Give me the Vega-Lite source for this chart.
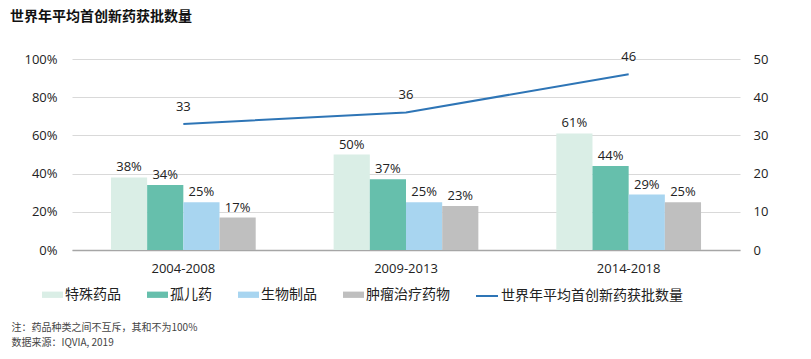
{
  "$schema": "https://vega.github.io/schema/vega-lite/v6.json",
  "width": 668,
  "height": 191,
  "autosize": {"type": "none"},
  "padding": {"left": 72, "top": 59, "right": 71, "bottom": 109},
  "background": "#ffffff",
  "config": {
    "font": "Open Sans, Noto Sans CJK SC, sans-serif",
    "view": {"stroke": null},
    "axis": {"labelColor": "#222222", "labelFontSize": 13, "ticks": false}
  },
  "title": {
    "text": "世界年平均首创新药获批数量",
    "anchor": "start",
    "frame": "group",
    "dx": -62,
    "offset": 27,
    "font": "Noto Sans CJK SC",
    "fontSize": 14,
    "fontWeight": "bold",
    "color": "#111111"
  },
  "datasets": {
    "bars": [
      {"period": "2004-2008", "category": "特殊药品", "value": 0.38},
      {"period": "2004-2008", "category": "孤儿药", "value": 0.34},
      {"period": "2004-2008", "category": "生物制品", "value": 0.25},
      {"period": "2004-2008", "category": "肿瘤治疗药物", "value": 0.17},
      {"period": "2009-2013", "category": "特殊药品", "value": 0.50},
      {"period": "2009-2013", "category": "孤儿药", "value": 0.37},
      {"period": "2009-2013", "category": "生物制品", "value": 0.25},
      {"period": "2009-2013", "category": "肿瘤治疗药物", "value": 0.23},
      {"period": "2014-2018", "category": "特殊药品", "value": 0.61},
      {"period": "2014-2018", "category": "孤儿药", "value": 0.44},
      {"period": "2014-2018", "category": "生物制品", "value": 0.29},
      {"period": "2014-2018", "category": "肿瘤治疗药物", "value": 0.25}
    ],
    "line": [
      {"period": "2004-2008", "series": "世界年平均首创新药获批数量", "count": 33},
      {"period": "2009-2013", "series": "世界年平均首创新药获批数量", "count": 36},
      {"period": "2014-2018", "series": "世界年平均首创新药获批数量", "count": 46}
    ]
  },
  "encoding": {
    "x": {
      "field": "period",
      "type": "nominal",
      "sort": ["2004-2008", "2009-2013", "2014-2018"],
      "scale": {"paddingInner": 0.35, "paddingOuter": 0.175},
      "axis": {
        "labelAngle": 0,
        "labelPadding": 12,
        "labelFontSize": 13,
        "domainColor": "#a6a6a6",
        "domainWidth": 1.5,
        "ticks": false,
        "title": ["注：药品种类之间不互斥，其和不为100%", "数据来源：IQVIA, 2019"],
        "titleX": -61,
        "titleY": 72,
        "titleAlign": "left",
        "titleAnchor": "start",
        "titleBaseline": "top",
        "titleFont": "Noto Sans CJK SC",
        "titleFontSize": 10,
        "titleFontWeight": "normal",
        "titleColor": "#444444",
        "titleLineHeight": 15
      }
    }
  },
  "layer": [
    {
      "data": {"name": "bars"},
      "encoding": {
        "xOffset": {"field": "category", "type": "nominal", "sort": ["特殊药品", "孤儿药", "生物制品", "肿瘤治疗药物"], "scale": {"paddingInner": 0, "paddingOuter": 0}},
        "y": {
          "field": "value",
          "type": "quantitative",
          "scale": {"domain": [0, 1], "nice": false},
          "axis": {
            "values": [0, 0.2, 0.4, 0.6, 0.8, 1],
            "format": ".0%",
            "title": null,
            "domain": false,
            "ticks": false,
            "grid": true,
            "gridColor": "#d9d9d9",
            "labelPadding": 15,
            "labelFontSize": 13
          }
        }
      },
      "layer": [
        {
          "mark": {"type": "bar"},
          "encoding": {
            "color": {
              "field": "category",
              "type": "nominal",
              "sort": ["特殊药品", "孤儿药", "生物制品", "肿瘤治疗药物"],
              "scale": {
                "domain": ["特殊药品", "孤儿药", "生物制品", "肿瘤治疗药物"],
                "range": ["#daeee6", "#66bfac", "#a8d5f0", "#bfbfbf"]
              },
              "legend": {
                "orient": "none",
                "legendX": -30,
                "legendY": 225,
                "direction": "horizontal",
                "title": null,
                "symbolType": "M-1,-0.3H1V0.3H-1Z",
                "symbolSize": 441,
                "symbolStrokeWidth": 0,
                "labelOffset": 2,
                "columnPadding": 26,
                "labelFont": "Noto Sans CJK SC",
                "labelFontSize": 14,
                "labelColor": "#222222"
              }
            }
          }
        },
        {
          "mark": {"type": "text", "baseline": "bottom", "dy": -3, "fontSize": 13, "color": "#222222"},
          "encoding": {
            "text": {"field": "value", "type": "quantitative", "format": ".0%"}
          }
        }
      ]
    },
    {
      "data": {"name": "line"},
      "encoding": {
        "y": {
          "field": "count",
          "type": "quantitative",
          "scale": {"domain": [0, 50], "nice": false},
          "axis": {
            "orient": "right",
            "values": [0, 10, 20, 30, 40, 50],
            "title": null,
            "domain": false,
            "ticks": false,
            "grid": false,
            "labelPadding": 13,
            "labelFontSize": 13
          }
        }
      },
      "layer": [
        {
          "mark": {"type": "line", "strokeWidth": 2},
          "encoding": {
            "stroke": {
              "field": "series",
              "type": "nominal",
              "scale": {"range": ["#2e75b6"]},
              "legend": {
                "orient": "none",
                "legendX": 403,
                "legendY": 225,
                "direction": "horizontal",
                "title": null,
                "symbolType": "stroke",
                "symbolSize": 484,
                "symbolStrokeWidth": 2,
                "labelOffset": 2,
                "labelLimit": 400,
                "labelFont": "Noto Sans CJK SC",
                "labelFontSize": 14,
                "labelColor": "#222222"
              }
            }
          }
        },
        {
          "mark": {"type": "text", "baseline": "bottom", "dy": -10, "fontSize": 13, "color": "#222222"},
          "encoding": {
            "text": {"field": "count", "type": "quantitative"}
          }
        }
      ]
    }
  ],
  "resolve": {"scale": {"y": "independent"}}
}
